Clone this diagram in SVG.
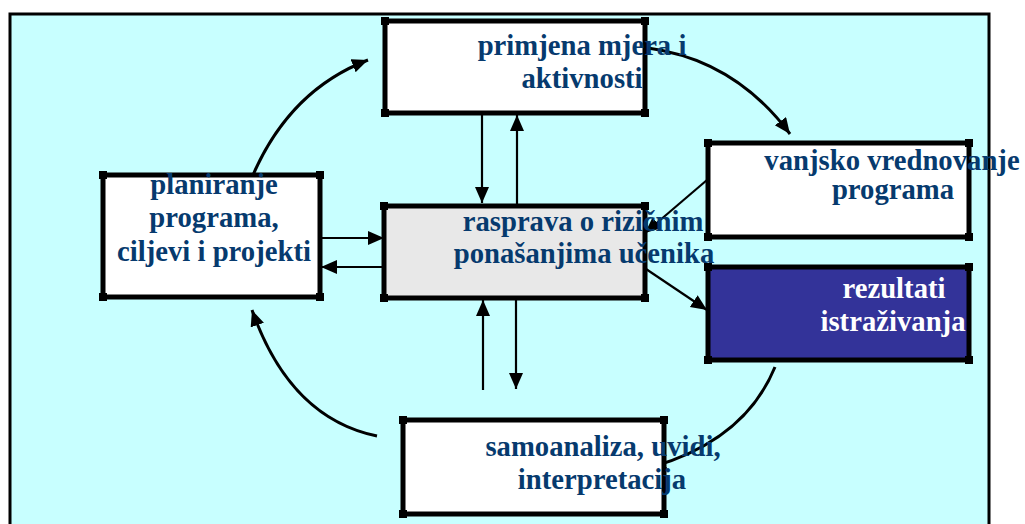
<svg xmlns="http://www.w3.org/2000/svg" xmlns:xlink="http://www.w3.org/1999/xlink" width="1025" height="524" viewBox="0 0 1025 524">
<defs>
<style>
.box{stroke:#000;stroke-width:5;}
.w{fill:#fff;}
.t{font-family:"Liberation Serif","Times New Roman","DejaVu Serif",serif;font-weight:bold;font-size:28.7px;fill:#063a6e;text-anchor:middle;}
.tw{fill:#fff;}
.c{fill:none;stroke:#000;stroke-width:3;}
.s{fill:none;stroke:#000;stroke-width:2.2;}
</style>
<marker id="ah" markerUnits="userSpaceOnUse" markerWidth="18" markerHeight="16" refX="16" refY="7" orient="auto">
<path d="M0,0 L16,7 L0,14 Z" fill="#000"/>
</marker>
<marker id="ahs" markerUnits="userSpaceOnUse" markerWidth="18" markerHeight="16" refX="14" refY="6" orient="auto">
<path d="M0,0 L14,6 L0,12 Z" fill="#000"/>
</marker>
<rect id="h" x="-4" y="-4" width="8" height="8" fill="#000"/>
</defs>
<rect x="0" y="0" width="1025" height="524" fill="#fff"/>
<rect x="10" y="14" width="979" height="520" fill="#C8FFFF" stroke="#000" stroke-width="3"/>

<g id="connectors">
<path class="c" d="M253,175 Q290,90 368,60" marker-end="url(#ah)"/>
<path class="c" d="M648,48 Q735,60 790,134" marker-end="url(#ah)"/>
<path class="c" d="M775,367 Q745,440 652,467" marker-end="url(#ahs)"/>
<path class="c" d="M377,436 Q290,418 252,310" marker-end="url(#ah)"/>
<path class="s" d="M320,238 L384,238" marker-end="url(#ah)"/>
<path class="s" d="M384,267 L321,267" marker-end="url(#ah)"/>
<path class="s" d="M482,113 L482,203" marker-end="url(#ah)"/>
<path class="s" d="M517,206 L517,115" marker-end="url(#ah)"/>
<path class="s" d="M483,390 L483,300" marker-end="url(#ah)"/>
<path class="s" d="M516,298 L516,389" marker-end="url(#ah)"/>
<path class="s" d="M707,180 L645,233" marker-end="url(#ah)"/>
<path class="s" d="M646,269 L707,310" marker-end="url(#ah)"/>
</g>

<g id="node-primjena">
<rect class="box w" x="385" y="21" width="260" height="92"/>
<use xlink:href="#h" x="385" y="21"/><use xlink:href="#h" x="645" y="21"/><use xlink:href="#h" x="385" y="113"/><use xlink:href="#h" x="645" y="113"/>
<text class="t" x="582" y="55">primjena mjera i</text>
<text class="t" x="582" y="88">aktivnosti</text>
</g>

<g id="node-planiranje">
<rect class="box w" x="103" y="175" width="217" height="122"/>
<use xlink:href="#h" x="103" y="175"/><use xlink:href="#h" x="320" y="175"/><use xlink:href="#h" x="103" y="297"/><use xlink:href="#h" x="320" y="297"/>
<text class="t" x="214" y="194">planiranje</text>
<text class="t" x="214" y="227">programa,</text>
<text class="t" x="214" y="261">ciljevi i projekti</text>
</g>

<g id="node-rasprava">
<rect class="box" fill="#E8E8E8" x="384" y="206" width="261" height="92"/>
<use xlink:href="#h" x="384" y="206"/><use xlink:href="#h" x="645" y="206"/><use xlink:href="#h" x="384" y="298"/><use xlink:href="#h" x="645" y="298"/>
<text class="t" x="583" y="231">rasprava o rizičnim</text>
<text class="t" x="584" y="263">ponašanjima učenika</text>
</g>

<g id="node-vanjsko">
<rect class="box w" x="708" y="143" width="261" height="94"/>
<use xlink:href="#h" x="708" y="143"/><use xlink:href="#h" x="969" y="143"/><use xlink:href="#h" x="708" y="237"/><use xlink:href="#h" x="969" y="237"/>
<text class="t" x="892" y="170">vanjsko vrednovanje</text>
<text class="t" x="893" y="199">programa</text>
</g>

<g id="node-rezultati">
<rect class="box" fill="#333399" x="708" y="267" width="261" height="93"/>
<use xlink:href="#h" x="708" y="267"/><use xlink:href="#h" x="969" y="267"/><use xlink:href="#h" x="708" y="360"/><use xlink:href="#h" x="969" y="360"/>
<text class="t tw" x="894" y="298">rezultati</text>
<text class="t tw" x="893" y="331">istraživanja</text>
</g>

<g id="node-samoanaliza">
<rect class="box w" x="403" y="420" width="261" height="94"/>
<use xlink:href="#h" x="403" y="420"/><use xlink:href="#h" x="664" y="420"/><use xlink:href="#h" x="403" y="514"/><use xlink:href="#h" x="664" y="514"/>
<text class="t" x="603" y="456">samoanaliza, uvidi,</text>
<text class="t" x="602" y="489">interpretacija</text>
</g>
</svg>
